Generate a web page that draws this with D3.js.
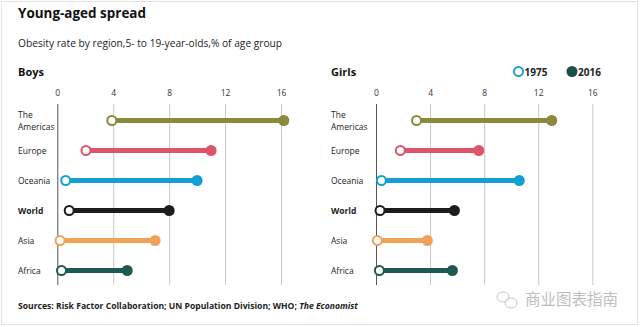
<!DOCTYPE html>
<html><head><meta charset="utf-8">
<script src="https://cdn.jsdelivr.net/npm/d3@7"></script>
<style>
body{margin:0;background:#fff;}
svg{display:block;font-family:"Open Sans","DejaVu Sans",sans-serif;}
</style></head>
<body><svg id="c" width="640" height="327"></svg>
<script>
const regions = ["The Americas","Europe","Oceania","World","Asia","Africa"];
const colors = ["#8a893c","#e0546b","#129fd4","#1c1c1c","#f0a258","#1e5a52"];
const boys1975 = [3.9,2.05,0.6,0.85,0.2,0.3];
const boys2016 = [16.2,11.0,10.0,8.0,7.0,5.0];
const girls1975 = [3.0,1.8,0.4,0.3,0.1,0.25];
const girls2016 = [13.0,7.6,10.6,5.8,3.8,5.65];
const tickVals = [0,4,8,12,16];
const years = ["1975","2016"];

const svg = d3.select("#c");
svg.append("rect").attr("x",1.5).attr("y",1.5).attr("width",636).attr("height",323)
  .attr("fill","#fff").attr("stroke","#e3e3e3");

svg.append("text").attr("x",18).attr("y",18).attr("font-size",14.5).attr("font-weight","bold")
  .attr("fill","#111").attr("textLength",128).attr("lengthAdjust","spacingAndGlyphs")
  .text("Young-aged spread");
svg.append("text").attr("x",18).attr("y",47).attr("font-size",10.2)
  .attr("fill","#222").text("Obesity rate by region,5- to 19-year-olds,% of age group");

const y = d3.scalePoint().domain(regions).range([120.5,270.5]);

function panel(title, labelX, x0, x1, v75, v16){
  const x = d3.scaleLinear().domain([0,16]).range([x0,x1]);
  const g = svg.append("g");
  g.append("text").attr("x",labelX).attr("y",76).attr("font-size",11).attr("font-weight","bold")
    .attr("fill","#111").text(title);
  const ax = g.append("g").attr("transform","translate(0,104)")
    .call(d3.axisTop(x).tickValues(tickVals).tickSizeInner(-181).tickSizeOuter(0).tickPadding(0));
  ax.select(".domain").remove();
  ax.selectAll(".tick line").attr("stroke",(d)=>d===0?"#555":"#c8c8c8").attr("stroke-width",1);
  ax.selectAll(".tick text").attr("y",-8).attr("font-size",8.5).attr("fill","#333")
    .attr("font-family","'Open Sans',sans-serif");
  regions.forEach((r,i)=>{
    const t = g.append("text").attr("x",labelX).attr("font-size",8.5).attr("fill","#222")
      .attr("font-weight", r==="World"?"bold":"normal");
    if(r==="The Americas"){
      t.append("tspan").attr("x",labelX).attr("y",y(r)-3).text("The");
      t.append("tspan").attr("x",labelX).attr("y",y(r)+9).text("Americas");
    } else {
      t.attr("y",y(r)+3).text(r);
    }
  });
  const rows = regions.map((r,i)=>({r, a:v75[i], b:v16[i], c:colors[i]}));
  g.selectAll("line.bar").data(rows).join("line").attr("class","bar")
    .attr("x1",d=>x(d.a)).attr("x2",d=>x(d.b)).attr("y1",d=>y(d.r)).attr("y2",d=>y(d.r))
    .attr("stroke",d=>d.c).attr("stroke-width",5);
  g.selectAll("circle.b").data(rows).join("circle").attr("class","b")
    .attr("cx",d=>x(d.b)).attr("cy",d=>y(d.r)).attr("r",5.5).attr("fill",d=>d.c);
  g.selectAll("circle.a").data(rows).join("circle").attr("class","a")
    .attr("cx",d=>x(d.a)).attr("cy",d=>y(d.r)).attr("r",4.5).attr("fill","#fff")
    .attr("stroke",d=>d.c).attr("stroke-width",2);
}
panel("Boys",18,57.3,281,boys1975,boys2016);
panel("Girls",331,376,592.3,girls1975,girls2016);

const lg = svg.append("g");
lg.append("circle").attr("cx",518.5).attr("cy",71.5).attr("r",4.5).attr("fill","#fff")
  .attr("stroke","#1fa3cf").attr("stroke-width",2);
lg.append("text").attr("x",524.5).attr("y",75.5).attr("font-size",10).attr("font-weight","bold")
  .attr("fill","#222").text(years[0]);
lg.append("circle").attr("cx",572).attr("cy",71.5).attr("r",5.5).attr("fill","#1d4f4a");
lg.append("text").attr("x",578).attr("y",75.5).attr("font-size",10).attr("font-weight","bold")
  .attr("fill","#222").text(years[1]);

const s = svg.append("text").attr("x",18).attr("y",309).attr("font-size",8.6).attr("font-weight","bold")
  .attr("fill","#222");
s.append("tspan").text("Sources: Risk Factor Collaboration; UN Population Division; WHO; ");
s.append("tspan").attr("font-style","italic").text("The Economist");

const wm = svg.append("g").attr("opacity",0.55);
wm.append("ellipse").attr("cx",503).attr("cy",297).attr("rx",6).attr("ry",5).attr("fill","none").attr("stroke","#999").attr("stroke-width",1);
wm.append("ellipse").attr("cx",511).attr("cy",303).attr("rx",6).attr("ry",5).attr("fill","none").attr("stroke","#999").attr("stroke-width",1);
wm.append("text").attr("x",525).attr("y",305).attr("font-size",15.5)
  .attr("font-family","'Noto Sans CJK SC',sans-serif").attr("fill","#888").text("商业图表指南");
</script></body></html>
